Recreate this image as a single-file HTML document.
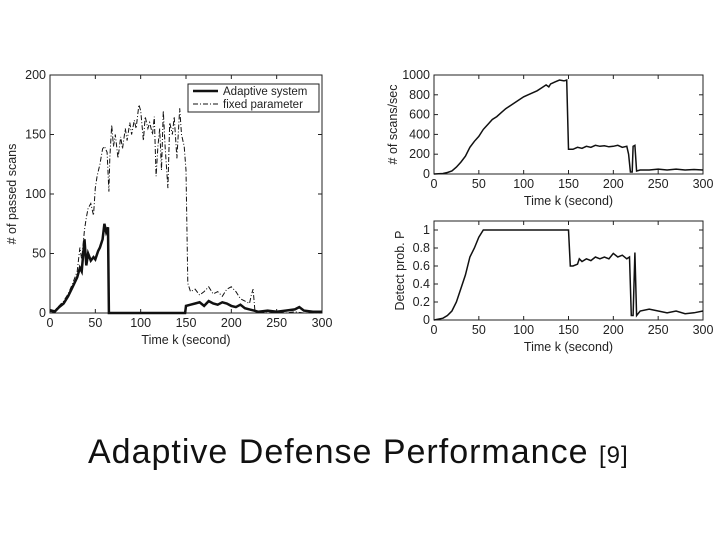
<!DOCTYPE html>
<html><head><meta charset="utf-8"><style>
body{margin:0;background:#fff;width:720px;height:540px;overflow:hidden;font-family:"Liberation Sans",sans-serif}
svg{position:absolute;left:0;top:0}
#title{position:absolute;left:88px;top:433px;font-size:34px;color:#111;white-space:nowrap;letter-spacing:1px}
#title span{font-size:24px}
</style></head><body>
<svg id="chart" width="720" height="540"></svg>
<div id="title">Adaptive Defense Performance <span>[9]</span></div>
<script>
const xTicks=[0,50,100,150,200,250,300];
const adaptT=[0,5,10,15,20,25,30,33,35,38,40,42,45,48,50,53,55,58,60,62,64,65,66,100,149,150,155,160,165,170,175,180,185,190,195,200,205,210,215,220,225,230,240,250,260,270,275,280,290,300];
const adaptV=[2,1,5,8,14,22,30,38,35,62,40,50,44,47,45,52,55,62,75,68,72,0,0,0,0,6,7,8,9,6,10,8,7,9,8,6,5,7,4,3,2,1,2,1,2,3,5,2,1,1];
const fixedT=[0,5,10,15,20,25,30,33,35,38,40,42,45,48,50,52,55,58,60,63,65,66,68,70,72,75,78,80,83,85,88,90,93,95,98,100,103,105,108,110,113,115,117,119,121,123,125,127,130,132,135,137,140,143,145,148,150,152,155,160,165,170,175,180,185,190,195,200,205,210,215,220,222,224,226,230,240,250,260,270,280,290,300];
const fixedV=[3,2,6,10,16,25,35,55,45,70,80,88,92,82,105,115,125,138,140,135,102,130,158,140,150,130,148,138,155,145,160,150,162,155,175,170,145,165,155,160,150,165,115,140,155,120,170,140,105,160,150,165,130,172,150,140,120,25,18,20,15,18,22,16,18,14,20,22,18,12,10,8,15,20,2,1,0,1,0,1,0,0,0];
const scanT=[0,10,15,20,25,30,35,40,45,50,55,60,65,70,75,80,85,90,95,100,105,110,115,120,125,128,130,135,140,145,148,150,155,160,165,170,175,180,185,190,195,200,205,210,215,217,219,221,222,224,226,230,240,250,260,270,280,290,300];
const scanV=[0,5,15,30,70,120,180,270,330,380,450,500,550,580,620,660,690,720,750,780,800,820,840,870,900,880,910,930,950,940,950,250,250,270,260,280,270,290,280,285,275,280,290,270,280,200,20,20,280,290,30,40,40,50,40,50,40,45,40];
const probT=[0,10,15,20,25,30,35,40,45,50,55,150,152,155,160,162,165,170,175,180,185,190,195,200,205,210,215,218,220,222,224,226,230,240,250,260,270,280,290,300];
const probV=[0,0.02,0.05,0.1,0.2,0.35,0.5,0.7,0.8,0.92,1,1,0.6,0.6,0.62,0.68,0.65,0.68,0.66,0.7,0.68,0.7,0.68,0.74,0.7,0.72,0.68,0.7,0.05,0.05,0.75,0.05,0.1,0.12,0.1,0.08,0.1,0.07,0.08,0.1];
const NS='http://www.w3.org/2000/svg';
const svg=document.getElementById('chart');
function el(tag,attrs,parent){const e=document.createElementNS(NS,tag);for(const k in attrs)e.setAttribute(k,attrs[k]);(parent||svg).appendChild(e);return e;}
function plot(name,box,ymax,yTicks,ylabel,series){
  const g=el('g',{});
  
  
  const sx=v=>box.x0+(v/300)*(box.x1-box.x0);
  const sy=v=>box.y1-(v/ymax)*(box.y1-box.y0);
  const r=el('rect',{x:box.x0,y:box.y0,width:box.x1-box.x0,height:box.y1-box.y0,fill:'none',stroke:'#222','stroke-width':1},g);
  
  
  xTicks.forEach(t=>{
    el('line',{x1:sx(t),x2:sx(t),y1:box.y1,y2:box.y1-4,stroke:'#222'},g);
    el('line',{x1:sx(t),x2:sx(t),y1:box.y0,y2:box.y0+4,stroke:'#222'},g);
    const tx=el('text',{x:sx(t),y:box.y1+14,'font-size':12.5,'text-anchor':'middle',fill:'#222'},g);
    tx.textContent=t;
    
    
  });
  yTicks.forEach(t=>{
    el('line',{x1:box.x0,x2:box.x0+4,y1:sy(t),y2:sy(t),stroke:'#222'},g);
    el('line',{x1:box.x1,x2:box.x1-4,y1:sy(t),y2:sy(t),stroke:'#222'},g);
    const tx=el('text',{x:box.x0-4,y:sy(t)+4,'font-size':12.5,'text-anchor':'end',fill:'#222'},g);
    tx.textContent=t;
    
    
  });
  const xl=el('text',{x:(box.x0+box.x1)/2,y:box.y1+31,'font-size':12.5,'text-anchor':'middle',fill:'#222'},g);
  xl.textContent='Time k (second)';
  
  
  const yc=(box.y0+box.y1)/2, yx=box.x0-box.lx;
  const yl=el('text',{x:yx,y:yc,'font-size':12.5,'text-anchor':'middle',fill:'#222',transform:`rotate(-90 ${yx} ${yc})`},g);
  yl.textContent=ylabel;
  
  
  series.forEach(s=>{
    const d=s.t.map((t,i)=>(i?'L':'M')+sx(t).toFixed(1)+','+sy(s.v[i]).toFixed(1)).join('');
    const p=el('path',{d:d,fill:'none',stroke:'#111','stroke-width':s.w,'stroke-dasharray':s.dash||'none'},g);
    
    
  });
  return g;
}
plot('passed-scans-chart',{x0:50,x1:322,y0:75,y1:313,lx:34},200,[0,50,100,150,200],'# of passed scans',
 [{t:fixedT,v:fixedV,w:1,dash:'5 2 1 2',name:'fixed-parameter-line'},{t:adaptT,v:adaptV,w:2.5,name:'adaptive-system-line'}]);
plot('scan-rate-chart',{x0:434,x1:703,y0:75,y1:174,lx:37},1000,[0,200,400,600,800,1000],'# of scans/sec',
 [{t:scanT,v:scanV,w:1.5,name:'scan-rate-line'}]);
plot('detect-prob-chart',{x0:434,x1:703,y0:221,y1:320,lx:30},1.1,[0,0.2,0.4,0.6,0.8,1],'Detect prob. P',
 [{t:probT,v:probV,w:1.5,name:'detect-prob-line'}]);
const lg=el('g',{});


el('rect',{x:188,y:84,width:131,height:28,fill:'#fff',stroke:'#222'},lg);
el('line',{x1:193,x2:218,y1:91,y2:91,stroke:'#111','stroke-width':2.5},lg);
el('line',{x1:193,x2:218,y1:104,y2:104,stroke:'#111','stroke-width':1,'stroke-dasharray':'5 2 1 2'},lg);
const l1=el('text',{x:223,y:95,'font-size':11.5,fill:'#222'},lg);l1.textContent='Adaptive system';


const l2=el('text',{x:223,y:108,'font-size':11.5,fill:'#222'},lg);l2.textContent='fixed parameter';


</script>
</body></html>
